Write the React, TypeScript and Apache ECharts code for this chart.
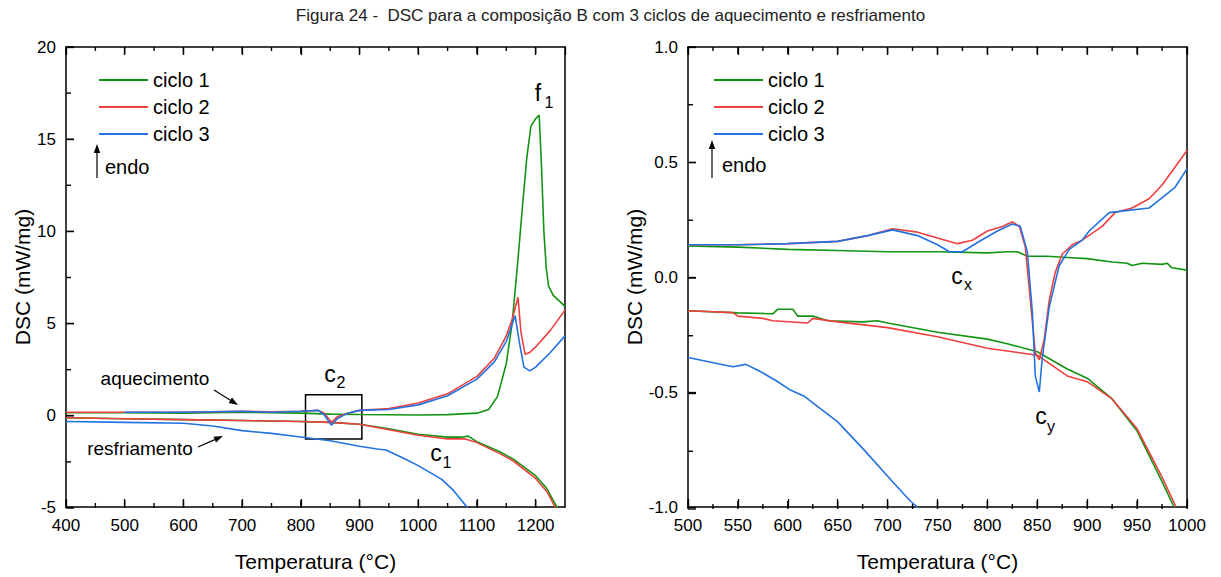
import React, { useEffect, useRef } from "react";
import * as echarts from "echarts";

const TITLE = "Figura 24 -  DSC para a composição B com 3 ciclos de aquecimento e resfriamento";
const NAMES = ["ciclo 1", "ciclo 2", "ciclo 3"];
const COLORS = ["#129412", "#ef3f3f", "#2272e0"];

// Left panel (400–1250 °C)
const c1HeatL = [[400,0.12],[500,0.12],[600,0.1],[700,0.15],[800,0.1],[850,0.05],[900,0.03],[1000,0.0],[1050,0.02],[1100,0.1],[1120,0.3],[1135,1.0],[1150,2.8],[1160,5.0],[1170,8.5],[1178,11.5],[1185,14.0],[1192,15.7],[1200,16.1],[1206,16.3],[1210,13.5],[1214,10],[1218,8.0],[1222,7.0],[1230,6.5],[1240,6.2],[1250,5.9]];
const c2HeatL = [[400,0.15],[500,0.15],[600,0.15],[700,0.2],[750,0.18],[800,0.2],[830,0.25],[840,0.1],[852,-0.4],[862,-0.1],[880,0.1],[900,0.25],[950,0.35],[1000,0.65],[1050,1.15],[1100,2.1],[1130,3.1],[1150,4.3],[1160,5.2],[1170,6.4],[1175,4.5],[1182,3.3],[1190,3.4],[1200,3.7],[1225,4.6],[1250,5.7]];
const c3HeatL = [[500,0.15],[600,0.15],[700,0.2],[750,0.15],[800,0.2],[830,0.25],[840,0.0],[852,-0.55],[862,-0.2],[880,0.1],[900,0.25],[950,0.3],[1000,0.55],[1050,1.05],[1100,1.95],[1130,2.9],[1150,4.0],[1165,5.4],[1172,4.0],[1180,2.6],[1190,2.4],[1200,2.6],[1225,3.4],[1250,4.3]];
const c1CoolL = [[400,-0.15],[500,-0.2],[600,-0.25],[700,-0.3],[800,-0.35],[850,-0.4],[900,-0.5],[950,-0.75],[1000,-1.05],[1050,-1.2],[1075,-1.2],[1085,-1.15],[1100,-1.45],[1139,-2.0],[1162,-2.4],[1200,-3.3],[1219,-4.0],[1236,-5.0],[1240,-5.3]];
const c2CoolL = [[400,-0.15],[500,-0.2],[600,-0.25],[700,-0.3],[800,-0.35],[850,-0.4],[900,-0.5],[950,-0.8],[1000,-1.1],[1050,-1.3],[1080,-1.3],[1100,-1.5],[1139,-2.1],[1162,-2.5],[1200,-3.45],[1220,-4.2],[1233,-5.0],[1238,-5.3]];
const c3CoolL = [[400,-0.35],[500,-0.4],[600,-0.45],[650,-0.6],[700,-0.85],[750,-1.0],[800,-1.2],[850,-1.4],[900,-1.7],[930,-1.85],[945,-1.9],[975,-2.35],[1000,-2.75],[1040,-3.5],[1060,-4.1],[1088,-5.2]];
const boxX = [808, 904];
const boxY = [-1.3, 1.1];

// Right panel (500–1000 °C)
const c1HeatR = [[500,0.135],[550,0.13],[600,0.12],[650,0.115],[700,0.11],[750,0.11],[800,0.105],[820,0.11],[830,0.11],[840,0.09],[860,0.09],[880,0.085],[900,0.08],[925,0.065],[940,0.06],[945,0.05],[955,0.06],[975,0.055],[980,0.06],[985,0.04],[1000,0.03]];
const c2HeatR = [[500,0.14],[550,0.14],[600,0.145],[650,0.155],[680,0.18],[705,0.21],[730,0.195],[750,0.17],[770,0.145],[785,0.16],[800,0.2],[815,0.22],[825,0.24],[832,0.22],[838,0.13],[843,-0.1],[848,-0.33],[852,-0.36],[857,-0.27],[862,-0.1],[868,0.02],[875,0.1],[885,0.14],[895,0.16],[915,0.22],[928,0.28],[945,0.3],[962,0.34],[975,0.4],[1000,0.55]];
const c3HeatR = [[500,0.14],[550,0.14],[600,0.145],[650,0.155],[680,0.18],[705,0.205],[730,0.18],[750,0.14],[762,0.11],[775,0.11],[790,0.15],[810,0.2],[825,0.23],[833,0.22],[840,0.11],[845,-0.15],[848,-0.43],[852,-0.5],[855,-0.35],[862,-0.13],[872,0.05],[882,0.12],[895,0.16],[902,0.2],[922,0.28],[962,0.3],[968,0.32],[988,0.39],[1000,0.47]];
const c1CoolR = [[500,-0.147],[550,-0.156],[585,-0.16],[590,-0.14],[605,-0.14],[610,-0.17],[625,-0.17],[640,-0.19],[675,-0.195],[690,-0.19],[700,-0.2],[750,-0.24],[800,-0.27],[820,-0.29],[850,-0.325],[880,-0.4],[900,-0.44],[925,-0.53],[950,-0.67],[975,-0.89],[987,-1.0]];
const c2CoolR = [[500,-0.147],[545,-0.155],[550,-0.17],[575,-0.18],[585,-0.19],[620,-0.2],[625,-0.18],[650,-0.195],[700,-0.22],[750,-0.26],[800,-0.31],[850,-0.34],[880,-0.43],[900,-0.455],[925,-0.53],[950,-0.66],[975,-0.87],[989,-1.0]];
const c3CoolR = [[500,-0.35],[545,-0.39],[558,-0.38],[572,-0.41],[588,-0.45],[602,-0.49],[617,-0.52],[650,-0.63],[675,-0.745],[705,-0.89],[723,-0.975],[735,-1.02]];

// Tick values
const xMajorL = [400, 500, 600, 700, 800, 900, 1000, 1100, 1200];
const xMinorL = [450, 550, 650, 750, 850, 950, 1050, 1150];
const yMajorL = [-5, 0, 5, 10, 15, 20];
const yMinorL = [-2.5, 2.5, 7.5, 12.5, 17.5];
const xMajorR = [500, 550, 600, 650, 700, 750, 800, 850, 900, 950, 1000];
const xMinorR = [525, 575, 625, 675, 725, 775, 825, 875, 925, 975];
const yMajorR = [-1, -0.5, 0, 0.5, 1];
const yMinorR = [-0.75, -0.25, 0.25, 0.75];

const FONT = "Liberation Sans, Arial, sans-serif";
const GRIDS = [
  { left: 66, top: 47, width: 499, height: 461, xmin: 400, xmax: 1250, ymin: -5, ymax: 20 },
  { left: 688, top: 47, width: 499, height: 462, xmin: 500, xmax: 1000, ymin: -1, ymax: 1 },
];

function arrow(x1: number, y1: number, x2: number, y2: number, head = 9) {
  const a = Math.atan2(y2 - y1, x2 - x1);
  const w = 3.2;
  const bx = x2 - head * Math.cos(a), by = y2 - head * Math.sin(a);
  const px = -Math.sin(a) * w, py = Math.cos(a) * w;
  return [
    { type: "line", shape: { x1, y1, x2: bx, y2: by }, style: { stroke: "#000", lineWidth: 1.2 } },
    { type: "polygon", shape: { points: [[x2, y2], [bx + px, by + py], [bx - px, by - py]] }, style: { fill: "#000" } },
  ];
}

function sub(main: string, s: string, x: number, y: number, dx: number, dy: number) {
  return [
    { type: "text", x, y, style: { text: main, font: `23px ${FONT}`, fill: "#000", align: "center", verticalAlign: "middle" } },
    { type: "text", x: x + dx, y: y + dy, style: { text: s, font: `16px ${FONT}`, fill: "#000", align: "center", verticalAlign: "middle" } },
  ];
}

function tickRects(gi: number, xMaj: number[], xMin: number[], yMaj: number[], yMin: number[]) {
  const g = GRIDS[gi];
  const px = (x: number) => g.left + ((x - g.xmin) / (g.xmax - g.xmin)) * g.width;
  const py = (y: number) => g.top + ((g.ymax - y) / (g.ymax - g.ymin)) * g.height;
  const bottom = g.top + g.height, top = g.top, left = g.left;
  const out: any[] = [];
  const r = (x: number, y: number, w: number, h: number) =>
    out.push({ type: "rect", silent: true, z: 100, shape: { x, y, width: w, height: h }, style: { fill: "#000" } });
  const W = 1.4;
  xMaj.forEach((x) => { r(px(x) - W / 2, bottom - 8, W, 8); r(px(x) - W / 2, top, W, 7); });
  xMin.forEach((x) => { r(px(x) - W / 2, bottom - 5, W, 5); r(px(x) - W / 2, top, W, 4); });
  yMaj.forEach((y) => r(left, py(y) - W / 2, 8, W));
  yMin.forEach((y) => r(left, py(y) - W / 2, 5, W));
  return out;
}

const line = () => ({ show: true, onZero: false, lineStyle: { color: "#000", width: 1.5 } });
const noSplit = { show: false };

export default function App() {
  const ref = useRef<HTMLDivElement>(null);
  useEffect(() => {
    document.body.style.margin = "0";
    const chart = echarts.init(ref.current!, null, { renderer: "svg" });
    const lbl = () => ({ color: "#000", fontSize: 17, fontFamily: FONT, margin: 10, formatter: (v: number) => String(v) });
    const nameStyle = { color: "#000", fontSize: 21, fontFamily: FONT };

    const mk = (name: string, data: number[][], ci: number, ax: number, extra: any = {}) => ({
      type: "line", name, data, xAxisIndex: ax, yAxisIndex: ax, showSymbol: false, symbol: "none",
      lineStyle: { color: COLORS[ci], width: 1.6 }, itemStyle: { color: COLORS[ci] }, clip: true, ...extra,
    });

    const legend = (left: number) => ({
      left, top: 65, orient: "vertical", icon: "rect", itemWidth: 49, itemHeight: 2, itemGap: 7,
      data: NAMES, textStyle: { fontSize: 20, fontFamily: FONT, color: "#000", lineHeight: 20 }, selectedMode: false,
    });

    const xAx = (g: number, iv: number, pos?: string) => ({
      type: "value", gridIndex: g, min: GRIDS[g].xmin, max: GRIDS[g].xmax, interval: iv, position: pos, axisLine: line(),
      axisTick: { show: true, inside: true, length: 8, lineStyle: { color: "#000", width: 1.3 } },
      axisLabel: pos === "top" ? { show: false } : lbl(), splitLine: noSplit,
      ...(pos === "top" ? {} : { name: "Temperatura (°C)", nameLocation: "middle", nameGap: 44, nameTextStyle: nameStyle }),
    });

    chart.setOption({
      animation: false,
      title: { text: TITLE, left: "center", top: 2, textStyle: { fontSize: 17, fontWeight: "normal", fontFamily: FONT, color: "#222" } },
      legend: [legend(94), legend(709)],
      grid: GRIDS.map((g) => ({ left: g.left, top: g.top, width: g.width, height: g.height })),
      xAxis: [xAx(0, 100), xAx(0, 100, "top"), xAx(1, 50), xAx(1, 50, "top")],
      yAxis: [
        { type: "value", gridIndex: 0, min: -5, max: 20, interval: 5, axisLine: line(),
          axisTick: { show: true, inside: true, length: 8, lineStyle: { color: "#000", width: 1.3 } }, axisLabel: lbl(), splitLine: noSplit,
          name: "DSC (mW/mg)", nameLocation: "middle", nameGap: 33, nameTextStyle: nameStyle },
        { type: "value", gridIndex: 0, position: "right", min: -5, max: 20, axisLine: line(), axisTick: { show: false }, axisLabel: { show: false }, splitLine: noSplit },
        { type: "value", gridIndex: 1, min: -1, max: 1, interval: 0.5, axisLine: line(),
          axisTick: { show: true, inside: true, length: 8, lineStyle: { color: "#000", width: 1.3 } },
          axisLabel: { ...lbl(), formatter: (v: number) => v.toFixed(1) }, splitLine: noSplit,
          name: "DSC (mW/mg)", nameLocation: "middle", nameGap: 38, nameTextStyle: nameStyle },
        { type: "value", gridIndex: 1, position: "right", min: -1, max: 1, axisLine: line(), axisTick: { show: false }, axisLabel: { show: false }, splitLine: noSplit },
      ],
      series: [
        mk(NAMES[0], c1CoolL, 0, 0),
        mk(NAMES[1], c2CoolL, 1, 0),
        mk(NAMES[2], c3CoolL, 2, 0),
        mk(NAMES[0], c1HeatL, 0, 0),
        mk(NAMES[1], c2HeatL, 1, 0),
        mk(NAMES[2], c3HeatL, 2, 0, {
          markArea: { silent: true, itemStyle: { color: "rgba(0,0,0,0)", borderColor: "#000", borderWidth: 1.5 }, label: { show: false },
            data: [[{ coord: [boxX[0], boxY[1]] }, { coord: [boxX[1], boxY[0]] }]] },
        }),
        mk(NAMES[0], c1CoolR, 0, 2),
        mk(NAMES[1], c2CoolR, 1, 2),
        mk(NAMES[2], c3CoolR, 2, 2),
        mk(NAMES[0], c1HeatR, 0, 2),
        mk(NAMES[1], c2HeatR, 1, 2),
        mk(NAMES[2], c3HeatR, 2, 2),
      ],
      graphic: [
        ...tickRects(0, xMajorL, xMinorL, yMajorL, yMinorL),
        ...tickRects(1, xMajorR, xMinorR, yMajorR, yMinorR),
        ...arrow(97, 178, 97, 144),
        { type: "text", x: 105, y: 167, style: { text: "endo", font: `20px ${FONT}`, fill: "#000", verticalAlign: "middle" } },
        ...arrow(712, 178, 712, 140),
        { type: "text", x: 722, y: 165, style: { text: "endo", font: `20px ${FONT}`, fill: "#000", verticalAlign: "middle" } },
        { type: "text", x: 155, y: 378, style: { text: "aquecimento", font: `19px ${FONT}`, fill: "#000", align: "center", verticalAlign: "middle" } },
        ...arrow(214, 390, 238, 405),
        { type: "text", x: 140, y: 448, style: { text: "resfriamento", font: `19px ${FONT}`, fill: "#000", align: "center", verticalAlign: "middle" } },
        ...arrow(198, 447, 223, 436),
        ...sub("c", "2", 330, 374, 11, 8),
        ...sub("c", "1", 436, 453, 11, 9),
        ...sub("f", "1", 538, 93, 11, 9),
        ...sub("c", "x", 957, 276, 11, 8),
        ...sub("c", "y", 1041, 416, 10, 10),
      ],
    });
    return () => chart.dispose();
  }, []);
  return <div ref={ref} style={{ width: 1221, height: 577 }} />;
}
